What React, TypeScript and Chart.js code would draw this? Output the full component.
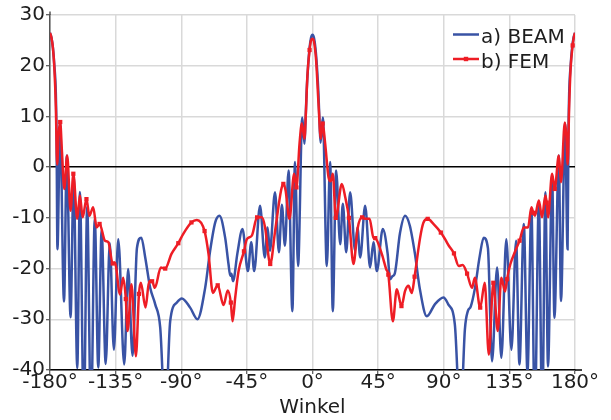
import React, { useEffect, useRef } from 'react';
import { Chart, registerables } from 'chart.js';

Chart.register(...registerables);

// ---------- data ----------
const xTickValues = [-180, -135, -90, -45, 0, 45, 90, 135, 180];
const yTickValues = [-40, -30, -20, -10, 0, 10, 20, 30];
const seriesNames = ['a) BEAM', 'b) FEM'];
const xTitle = 'Winkel';

const beamAngles = [
  -180, -179, -178, -177, -176, -175.5, -174.9, -173.1, -170.4, -168.5,
  -165.9, -163.8, -161.3, -159.5, -156.8, -154.5, -151.9, -149.3, -146.9, -144.6,
  -141.8, -139, -136.2, -133.2, -129.1, -126.4, -123.4, -120.4, -117.4, -114.7,
  -111.3, -107.9, -104.4, -100.9, -97.6, -93, -89.6, -83.9, -78.9, -73.6,
  -70.2, -66.7, -63.8, -59.9, -57.6, -56.4, -55.6, -54.5, -51.5, -48,
  -44.3, -42, -40, -36, -32.7, -30.8, -29.2, -25.7, -23, -21,
  -18.9, -16.4, -13.8, -12, -9.9, -7, -5.5, -4.8, -4, -3,
  -2, -1, 0, 1, 2, 3, 4, 4.8, 5.5, 7.1,
  9.8, 12.1, 13.9, 16.2, 19, 20.8, 23.1, 25.8, 29.2, 30.8,
  32.7, 36.1, 39.5, 41.8, 44.1, 48.2, 51.5, 53.2, 54.8, 56.4,
  60, 63.5, 66.7, 70.2, 73.6, 78.4, 84, 89.8, 93, 97.6,
  101.4, 104.5, 106.5, 108.5, 111.3, 114.7, 117.4, 120.3, 123.1, 126.6,
  129.5, 132.9, 136.4, 139.6, 141.9, 144.9, 147.4, 150.1, 152.4, 155.2,
  157.5, 159.7, 161.5, 164.3, 165.9, 168.9, 170.4, 173.2, 174.9, 175.5,
  176, 177, 178, 179, 180,
];
const beamValues = [
  26.5, 25.5, 23.5, 20, 14.5, 6, -16.2, 8.7, -26.5, 2.3,
  -29.6, -1.6, -39.6, -4.9, -50, -7.8, -50, -10.2, -39.5, -12.5,
  -38.8, -15, -36, -14.2, -38.9, -20.1, -37.2, -16, -13.9, -17.8,
  -23.8, -27, -31.7, -50, -30.4, -26.7, -25.9, -27.7, -30, -23.8,
  -16.5, -10.9, -9.6, -13.9, -19.1, -21.4, -21, -22.5, -17, -12.2,
  -20.5, -14.8, -20.5, -7.6, -17.8, -11.9, -16.5, -4.95, -16.8, -7.4,
  -15.5, -0.65, -28.4, 1.0, -19.5, 9.8, 4.6, 9, 15, 20,
  23.5, 25.5, 26.1, 25.5, 23.5, 20, 15, 9, 4.8, 9.8,
  -19.5, 1.0, -28.4, -0.65, -15.2, -7.2, -16.8, -4.95, -16.5, -11.9,
  -17.8, -7.6, -19.8, -14.8, -20.5, -12.2, -17, -22.1, -21.5, -21,
  -13, -9.6, -11.5, -17, -24, -29.4, -27, -25.7, -27, -31,
  -50, -32, -28.4, -27.5, -24, -17.5, -13.9, -16, -38.3, -19.8,
  -37.6, -14.2, -36, -14.5, -38.9, -11.2, -40.5, -8.2, -50, -6.9,
  -50, -4.95, -39.3, -1.6, -29.7, 2.3, -26.4, 8.6, -16.2, 6,
  14.5, 20, 23.5, 25.5, 26.5,
];

const femAngles = [
  -180, -179, -178, -177, -176, -175.1, -174.1, -173, -171.8, -170.2,
  -168.2, -165.9, -164, -161.3, -159.5, -157.6, -155, -153, -150.4, -148,
  -146, -142.3, -140, -137, -135.5, -132, -129.8, -128, -126.8, -124.1,
  -121.1, -119, -117.7, -114.5, -112, -110, -108.1, -104, -101, -96.7,
  -92, -88.7, -83, -79.3, -74, -71.3, -68.3, -65, -61, -58.1,
  -56, -54.8, -53, -50.7, -47, -45, -41.6, -38, -34.7, -32.5,
  -29, -25.6, -21.5, -20, -18.5, -15.8, -12.6, -11, -8.9, -7.3,
  -5.5, -4.5, -3.5, -2, -1, 0, 1, 2.5, 4.1, 5.7,
  7, 8.7, 11, 12.5, 13.9, 16, 20.1, 22.5, 25, 28.1,
  31, 34, 36.5, 39.1, 41.8, 43, 47.5, 50.5, 52, 55.1,
  57.8, 61, 63.5, 65.8, 68.1, 70, 73.8, 76, 79, 82.9,
  88, 90.9, 93.5, 97, 100.3, 103, 106, 109.4, 111.3, 115,
  118.1, 120.9, 124, 127, 129.5, 132, 133.4, 135.7, 139.1, 142,
  144.9, 147.8, 150.1, 151.4, 152.5, 155.2, 157.4, 159.7, 160.6, 161.5,
  164.3, 166.1, 168.9, 170.4, 173, 174, 175, 176, 177, 178.4,
  179, 180,
];
const femValues = [
  26.5, 25.5, 23.5, 19.5, 12, 0.5, 6.5, 8.9, 3, -4.3,
  2.3, -8.6, -1.3, -10.2, -5.6, -9.9, -6.3, -9.6, -7.9, -11.9,
  -11.2, -14.5, -14.8, -19, -18.8, -25.1, -21.8, -26, -32.3, -23.1,
  -37.3, -25, -22.8, -27.7, -22.5, -22.5, -23.8, -19.8, -20, -17.1,
  -15, -13.2, -10.9, -10.4, -12.6, -17.1, -24.8, -23.3, -27.2, -24.3,
  -26.7, -30.4, -25.7, -20.5, -16.6, -14.2, -13.5, -9.9, -9.9, -11.9,
  -19.1, -12.5, -4.5, -3.3, -4.5, -10.2, -1.3, -4, 4.6, 8.6,
  5.6, 11, 18, 23.1, 25, 25.3, 24.8, 21, 12.6, 5.6,
  8.6, 4.6, -2, -2.8, -1.3, -10, -3.3, -6, -10, -19.1,
  -12, -9.9, -10.2, -10.2, -13.9, -14, -17.1, -20.1, -21.2, -30.4,
  -24.1, -27.4, -24.4, -23.4, -24.8, -21.6, -13.9, -11, -10.2, -11.2,
  -12.9, -14.2, -15.5, -17, -19.5, -19.3, -21, -23.8, -21.8, -27.7,
  -22.8, -37, -22.8, -32.3, -21.8, -24.5, -22.1, -19.1, -16.5, -14.5,
  -11.9, -11.9, -7.9, -9, -9.6, -6.6, -9.9, -5.6, -7, -9.9,
  -1.3, -4.3, 2.3, -3, 8.8, 6.5, 0.5, 12, 19.5, 24,
  25.3, 26.5,
];
// angles at which the FEM curve carries a sample marker
const femMarkerAngles = [
  -173, -164, -155, -146, -137, -128, -119, -110, -101, -92, -83, -74, -65, -56,
  -47, -38, -29, -20, -11, -2, 7, 16, 25, 34, 43, 52, 61, 70, 79, 88, 97, 106,
  115, 124, 133.4, 142, 151.4, 160.6, 166.1, 178.4,
];

// ---------- styles ----------
const BLUE = '#3953a5';
const RED = '#ee1d25';
const FONT = '"DejaVu Sans", "Liberation Sans", Arial, sans-serif';
const TEXT = '#1e1e1e';

const markerSet = new Set(femMarkerAngles);

const extrasPlugin = {
  id: 'extras',
  afterDraw(chart: any) {
    const { ctx, chartArea } = chart;
    const { left, right, top, bottom } = chartArea;
    ctx.save();
    // axis overhangs
    ctx.strokeStyle = '#000';
    ctx.lineWidth = 1.5;
    ctx.beginPath();
    ctx.moveTo(right, bottom);
    ctx.lineTo(right + 7, bottom);
    ctx.stroke();
    ctx.strokeStyle = '#555';
    ctx.beginPath();
    ctx.moveTo(left, top);
    ctx.lineTo(left, top - 3.5);
    ctx.stroke();

    // legend inside plot (top right)
    const rows = [
      { label: seriesNames[0], color: BLUE, marker: false, y: top + 19.5 },
      { label: seriesNames[1], color: RED, marker: true, y: top + 44 },
    ];
    const x0 = right - 122;
    const x1 = right - 96;
    ctx.font = `20px ${FONT}`;
    ctx.textAlign = 'left';
    ctx.textBaseline = 'alphabetic';
    for (const r of rows) {
      ctx.strokeStyle = r.color;
      ctx.lineWidth = 2.5;
      ctx.beginPath();
      ctx.moveTo(x0, r.y);
      ctx.lineTo(x1, r.y);
      ctx.stroke();
      if (r.marker) {
        ctx.fillStyle = r.color;
        ctx.fillRect((x0 + x1) / 2 - 2.2, r.y - 2.2, 4.4, 4.4);
      }
      ctx.fillStyle = TEXT;
      ctx.fillText(r.label, x1 + 2, r.y + 8.5);
    }
    ctx.restore();
  },
};

export default function App() {
  const canvasRef = useRef<HTMLCanvasElement | null>(null);

  useEffect(() => {
    const canvas = canvasRef.current;
    if (!canvas) return;
    const beamData = beamAngles.map((a, i) => ({ x: a, y: beamValues[i] }));
    const femData = femAngles.map((a, i) => ({ x: a, y: femValues[i] }));

    const chart = new Chart(canvas, {
      type: 'line',
      data: {
        datasets: [
          {
            label: seriesNames[0],
            data: beamData,
            borderColor: BLUE,
            backgroundColor: BLUE,
            borderWidth: 2.5,
            pointRadius: 0,
            cubicInterpolationMode: 'monotone',
            order: 1,
          },
          {
            label: seriesNames[1],
            data: femData,
            borderColor: RED,
            backgroundColor: RED,
            borderWidth: 2.5,
            pointStyle: 'rect',
            pointRadius: (c: any) => (markerSet.has(femAngles[c.dataIndex]) ? 3 : 0),
            pointBorderWidth: 0,
            cubicInterpolationMode: 'monotone',
            order: 0,
          },
        ],
      },
      options: {
        responsive: false,
        animation: false,
        devicePixelRatio: 1,
        layout: { padding: { top: 15, right: 36, left: 0, bottom: 0 } },
        plugins: {
          legend: { display: false },
          tooltip: { enabled: false },
        },
        scales: {
          x: {
            type: 'linear',
            min: -180,
            max: 180,
            afterBuildTicks: (s: any) => {
              s.ticks = xTickValues.map((v) => ({ value: v }));
            },
            afterFit: (s: any) => {
              s.height = 50;
            },
            grid: {
              color: '#d9d9d9',
              lineWidth: 1.5,
              tickColor: '#333',
              tickLength: 4,
              tickWidth: 1,
            },
            border: { color: '#000', width: 1.5 },
            ticks: {
              autoSkip: false,
              maxRotation: 0,
              padding: -1,
              color: TEXT,
              font: { family: FONT, size: 20, lineHeight: 1 },
              callback: (v: any) => `${v}°`,
            },
            title: {
              display: true,
              text: xTitle,
              color: TEXT,
              padding: { top: 0, bottom: 0 },
              font: { family: FONT, size: 20, lineHeight: 1.2 },
            },
          },
          y: {
            min: -40,
            max: 30,
            afterBuildTicks: (s: any) => {
              s.ticks = yTickValues.map((v) => ({ value: v }));
            },
            afterFit: (s: any) => {
              s.width = 50;
            },
            grid: {
              color: (c: any) => (c.tick && c.tick.value === 0 ? '#000' : '#d9d9d9'),
              lineWidth: 1.5,
              tickColor: '#333',
              tickLength: 4,
              tickWidth: 1,
            },
            border: { color: '#555', width: 1.5 },
            ticks: {
              padding: 1,
              color: TEXT,
              font: { family: FONT, size: 20, lineHeight: 1 },
            },
          },
        },
      },
      plugins: [extrasPlugin],
    } as any);

    return () => chart.destroy();
  }, []);

  return (
    <div style={{ position: 'fixed', left: 0, top: 0, width: 611, height: 420, background: '#fff' }}>
      <canvas ref={canvasRef} width={611} height={420} style={{ display: 'block' }} />
    </div>
  );
}
